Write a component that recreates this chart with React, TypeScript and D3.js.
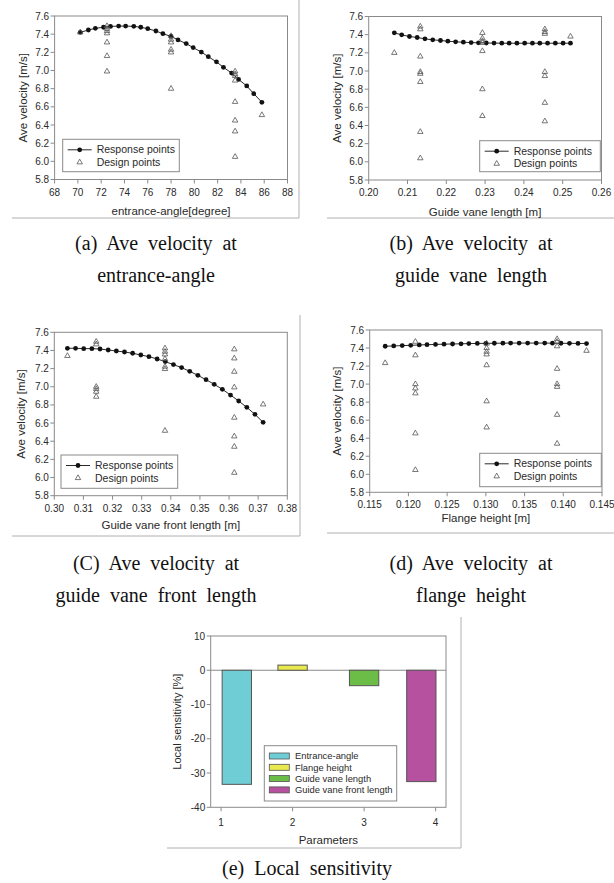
import * as d3 from "d3";

const SANS = "'Liberation Sans', Arial, sans-serif";
const SERIF = "'Liberation Serif', 'Times New Roman', serif";
const FRAME = "#8a8a8a";
const INK = "#2a2a2a";

// velocity axis shared by panels a-d
const velocityTicks = [5.8, 6.0, 6.2, 6.4, 6.6, 6.8, 7.0, 7.2, 7.4, 7.6];

// (a) entrance-angle
const angleTicks = [68, 70, 72, 74, 76, 78, 80, 82, 84, 86, 88];
const angleRespX = [70.2, 70.9, 71.5, 72.2, 72.8, 73.5, 74.1, 74.8, 75.4, 76.0, 76.7, 77.3, 78.0, 78.6, 79.3, 79.9, 80.6, 81.2, 81.9, 82.5, 83.2, 83.8, 84.5, 85.1, 85.8];
const angleRespY = [7.42, 7.446, 7.464, 7.476, 7.485, 7.489, 7.489, 7.486, 7.476, 7.46, 7.435, 7.405, 7.375, 7.337, 7.296, 7.252, 7.203, 7.152, 7.095, 7.035, 6.972, 6.902, 6.83, 6.745, 6.65];
const angleDesX = [70.2, 72.5, 72.5, 72.5, 72.5, 72.5, 72.5, 72.5, 78, 78, 78, 78, 78, 78, 83.5, 83.5, 83.5, 83.5, 83.5, 83.5, 83.5, 83.5, 85.8];
const angleDesY = [7.42, 7.49, 7.46, 7.435, 7.41, 7.31, 7.16, 6.99, 7.38, 7.34, 7.31, 7.23, 7.2, 6.8, 6.99, 6.96, 6.94, 6.89, 6.655, 6.45, 6.33, 6.05, 6.51];

// (b) guide vane length
const vaneTicks = [0.2, 0.21, 0.22, 0.23, 0.24, 0.25, 0.26];
const vaneRespX = [0.2066, 0.2085, 0.2105, 0.2125, 0.2145, 0.2165, 0.2185, 0.2204, 0.2224, 0.2244, 0.2264, 0.2283, 0.2303, 0.2323, 0.2343, 0.2362, 0.2382, 0.2402, 0.2422, 0.2441, 0.2461, 0.2481, 0.2501, 0.252];
const vaneRespY = [7.42, 7.398, 7.38, 7.369, 7.354, 7.343, 7.336, 7.328, 7.321, 7.317, 7.313, 7.31, 7.308, 7.307, 7.306, 7.306, 7.306, 7.306, 7.306, 7.306, 7.306, 7.306, 7.306, 7.306];
const vaneDesX = [0.2066, 0.2133, 0.2133, 0.2133, 0.2133, 0.2133, 0.2133, 0.2133, 0.2133, 0.2293, 0.2293, 0.2293, 0.2293, 0.2293, 0.2293, 0.2293, 0.2454, 0.2454, 0.2454, 0.2454, 0.2454, 0.2454, 0.2454, 0.252];
const vaneDesY = [7.2, 7.49, 7.46, 7.16, 6.99, 6.97, 6.88, 6.33, 6.04, 7.42, 7.36, 7.33, 7.31, 7.22, 6.8, 6.505, 7.46, 7.43, 7.41, 6.99, 6.945, 6.65, 6.447, 7.38];

// (c) guide vane front length
const frontTicks = [0.3, 0.31, 0.32, 0.33, 0.34, 0.35, 0.36, 0.37, 0.38];
const frontRespX = [0.3045, 0.3073, 0.3101, 0.3129, 0.3157, 0.3185, 0.3213, 0.3241, 0.3269, 0.3297, 0.3325, 0.3353, 0.3381, 0.3409, 0.3437, 0.3465, 0.3493, 0.3521, 0.3549, 0.3577, 0.3605, 0.3633, 0.3661, 0.3689, 0.3717];
const frontRespY = [7.424, 7.424, 7.42, 7.42, 7.416, 7.405, 7.394, 7.383, 7.369, 7.35, 7.332, 7.306, 7.277, 7.244, 7.211, 7.17, 7.126, 7.078, 7.027, 6.972, 6.909, 6.843, 6.773, 6.696, 6.608];
const frontDesX = [0.3045, 0.3144, 0.3144, 0.3144, 0.3144, 0.3144, 0.3144, 0.338, 0.338, 0.338, 0.338, 0.338, 0.338, 0.338, 0.3618, 0.3618, 0.3618, 0.3618, 0.3618, 0.3618, 0.3618, 0.3618, 0.3717];
const frontDesY = [7.34, 7.497, 7.468, 7.0, 6.975, 6.946, 6.891, 7.424, 7.387, 7.357, 7.306, 7.222, 7.196, 6.516, 7.413, 7.313, 7.166, 6.994, 6.66, 6.454, 6.34, 6.053, 6.806];

// (d) flange height
const flangeTicks = [0.115, 0.12, 0.125, 0.13, 0.135, 0.14, 0.145];
const flangeRespX = [0.117, 0.1181, 0.1192, 0.1203, 0.1214, 0.1224, 0.1235, 0.1246, 0.1257, 0.1268, 0.1278, 0.1289, 0.13, 0.1311, 0.1322, 0.1332, 0.1343, 0.1354, 0.1365, 0.1376, 0.1386, 0.1397, 0.1408, 0.1419, 0.143];
const flangeRespY = [7.42, 7.423, 7.427, 7.43, 7.434, 7.437, 7.44, 7.443, 7.445, 7.447, 7.449, 7.451, 7.452, 7.453, 7.454, 7.455, 7.455, 7.455, 7.455, 7.455, 7.454, 7.453, 7.452, 7.451, 7.45];
const flangeDesX = [0.117, 0.1209, 0.1209, 0.1209, 0.1209, 0.1209, 0.1209, 0.1209, 0.1301, 0.1301, 0.1301, 0.1301, 0.1301, 0.1301, 0.1301, 0.1392, 0.1392, 0.1392, 0.1392, 0.1392, 0.1392, 0.1392, 0.1392, 0.143];
const flangeDesY = [7.234, 7.47, 7.32, 7.0, 6.953, 6.898, 6.454, 6.048, 7.45, 7.4, 7.36, 7.33, 7.21, 6.81, 6.52, 7.5, 7.47, 7.42, 7.17, 7.0, 6.97, 6.66, 6.34, 7.37];

// (e) local sensitivity
const paramTicks = [1, 2, 3, 4];
const sensTicks = [-40, -30, -20, -10, 0, 10];
const sensNames = ["Entrance-angle", "Flange height", "Guide vane length", "Guide vane front length"];
const sensPos = [1.22, 2.0, 3.0, 3.8];
const sensValues = [-33.3, 1.5, -4.5, -32.5];
const sensColors = ["#6fcdd6", "#e9e84e", "#6cbd47", "#b5519f"];

const triangle = d3.symbol(d3.symbolTriangle, 13)();

function Legend({ left, top, width, height }: { left: number; top: number; width: number; height: number }) {
  return (
    <g>
      <rect x={left} y={top} width={width} height={height} fill="white" stroke={FRAME} strokeWidth={1} />
      <line x1={left + 5} x2={left + 29} y1={top + 10.5} y2={top + 10.5} stroke={INK} strokeWidth={1} />
      <circle cx={left + 17} cy={top + 10.5} r={2.4} fill="#111" />
      <path d={triangle} transform={`translate(${left + 17},${top + 23})`} fill="none" stroke="#555" strokeWidth={0.8} />
      <text x={left + 34} y={top + 14} fontSize={10.5} fontFamily={SANS} fill={INK}>Response points</text>
      <text x={left + 34} y={top + 26.5} fontSize={10.5} fontFamily={SANS} fill={INK}>Design points</text>
    </g>
  );
}

interface PanelProps {
  left: number; right: number; top: number; bottom: number;
  xTicks: number[]; xFormat: string; xLabel: string;
  respX: number[]; respY: number[]; desX: number[]; desY: number[];
  yLabelX: number; xLabelY: number;
  legend: { left: number; top: number; width: number; height: number };
}

function VelocityPanel(p: PanelProps) {
  const x = d3.scaleLinear().domain([p.xTicks[0], p.xTicks[p.xTicks.length - 1]]).range([p.left, p.right]);
  const y = d3.scaleLinear().domain([5.8, 7.6]).range([p.bottom, p.top]);
  const fmt = d3.format(p.xFormat);
  const line = d3.line<number>().x((_, i) => x(p.respX[i])).y(d => y(d));
  return (
    <g>
      <rect x={p.left} y={p.top} width={p.right - p.left} height={p.bottom - p.top} fill="none" stroke={FRAME} strokeWidth={1} />
      {velocityTicks.map(t => (
        <g key={"y" + t}>
          <line x1={p.left - 4} x2={p.left} y1={y(t)} y2={y(t)} stroke={FRAME} />
          <text x={p.left - 5.5} y={y(t)} dy="0.35em" textAnchor="end" fontSize={10} fontFamily={SANS} fill={INK}>{t.toFixed(1)}</text>
        </g>
      ))}
      {p.xTicks.map(t => (
        <g key={"x" + t}>
          <line x1={x(t)} x2={x(t)} y1={p.bottom} y2={p.bottom + 4} stroke={FRAME} />
          <text x={x(t)} y={p.bottom + 12.5} dy="0.35em" textAnchor="middle" fontSize={10} fontFamily={SANS} fill={INK}>{fmt(t)}</text>
        </g>
      ))}
      <text transform={`translate(${p.yLabelX},${(p.top + p.bottom) / 2}) rotate(-90)`} dy="0.35em" textAnchor="middle" fontSize={11.5} fontFamily={SANS} fill={INK}>Ave velocity [m/s]</text>
      <text x={(p.left + p.right) / 2} y={p.xLabelY} dy="0.35em" textAnchor="middle" fontSize={11.5} fontFamily={SANS} fill={INK}>{p.xLabel}</text>
      <path d={line(p.respY) ?? ""} fill="none" stroke={INK} strokeWidth={1} />
      {p.respY.map((v, i) => (
        <circle key={"r" + i} cx={x(p.respX[i])} cy={y(v)} r={2.4} fill="#111" />
      ))}
      {p.desY.map((v, i) => (
        <path key={"d" + i} d={triangle} transform={`translate(${x(p.desX[i])},${y(v)})`} fill="none" stroke="#555" strokeWidth={0.8} />
      ))}
      <Legend {...p.legend} />
    </g>
  );
}

function SensitivityPanel() {
  const left = 210.7, right = 446, top = 636, bottom = 807.3;
  const x = d3.scaleLinear().domain([0.855, 4.145]).range([left, right]);
  const y = d3.scaleLinear().domain([-40, 10]).range([bottom, top]);
  const bw = 0.41;
  return (
    <g>
      <rect x={left} y={top} width={right - left} height={bottom - top} fill="none" stroke={FRAME} />
      <line x1={left} x2={right} y1={y(0)} y2={y(0)} stroke={FRAME} />
      {sensValues.map((v, i) => (
        <rect key={i} x={x(sensPos[i] - bw / 2)} width={x(bw) - x(0)} y={y(Math.max(0, v))} height={Math.abs(y(v) - y(0))}
          fill={sensColors[i]} stroke="#555" strokeWidth={1} />
      ))}
      {sensTicks.map(t => (
        <g key={"y" + t}>
          <line x1={left - 4} x2={left} y1={y(t)} y2={y(t)} stroke={FRAME} />
          <text x={left - 5.5} y={y(t)} dy="0.35em" textAnchor="end" fontSize={10} fontFamily={SANS} fill={INK}>{t}</text>
        </g>
      ))}
      {paramTicks.map(t => (
        <g key={"x" + t}>
          <line x1={x(t)} x2={x(t)} y1={bottom} y2={bottom + 4} stroke={FRAME} />
          <text x={x(t)} y={bottom + 15.5} dy="0.35em" textAnchor="middle" fontSize={10} fontFamily={SANS} fill={INK}>{t}</text>
        </g>
      ))}
      <text transform={`translate(177,${(top + bottom) / 2}) rotate(-90)`} dy="0.35em" textAnchor="middle" fontSize={11} fontFamily={SANS} fill={INK}>Local sensitivity [%]</text>
      <text x={(left + right) / 2} y={840} dy="0.35em" textAnchor="middle" fontSize={11.5} fontFamily={SANS} fill={INK}>Parameters</text>
      <rect x={264.3} y={745.7} width={132.4} height={55.3} fill="white" stroke={FRAME} />
      {sensNames.map((n, i) => (
        <g key={n}>
          <rect x={269.3} y={753 + i * 11.3} width={20} height={6} fill={sensColors[i]} stroke="#555" strokeWidth={0.8} />
          <text x={295} y={756 + i * 11.3} dy="0.35em" fontSize={9.4} fontFamily={SANS} fill={INK}>{n}</text>
        </g>
      ))}
    </g>
  );
}

function Caption({ x, y, lines }: { x: number; y: number; lines: string[] }) {
  return (
    <g>
      {lines.map((l, i) => (
        <text key={i} x={x} y={y + i * 32} textAnchor="middle" fontSize={20} fontFamily={SERIF} fill="#111" style={{ wordSpacing: "5px" }}>{l}</text>
      ))}
    </g>
  );
}

export default function App() {
  return (
    <svg width={614} height={883} style={{ position: "absolute", left: 0, top: 0, background: "white" }}>
      {/* panel borders from the scanned figure */}
      <g stroke="#b0b0b0" strokeWidth={1}>
        <line x1={299} x2={299} y1={0} y2={218} />
        <line x1={12} x2={299} y1={218} y2={218} />
        <line x1={327} x2={614} y1={218} y2={218} />
        <line x1={300} x2={300} y1={315} y2={536} />
        <line x1={12} x2={300} y1={536} y2={536} />
        <line x1={327} x2={614} y1={533} y2={533} />
        <line x1={461} x2={461} y1={617} y2={848} />
        <line x1={167} x2={461} y1={848} y2={848} />
      </g>
      <VelocityPanel left={54.6} right={287.5} top={16} bottom={179.5} xTicks={angleTicks} xFormat="d" xLabel="entrance-angle[degree]"
        respX={angleRespX} respY={angleRespY} desX={angleDesX} desY={angleDesY} yLabelX={23} xLabelY={210.5}
        legend={{ left: 62.7, top: 139.3, width: 116.6, height: 32.4 }} />
      <VelocityPanel left={368.7} right={601.5} top={16.5} bottom={180} xTicks={vaneTicks} xFormat=".2f" xLabel="Guide vane length [m]"
        respX={vaneRespX} respY={vaneRespY} desX={vaneDesX} desY={vaneDesY} yLabelX={336.5} xLabelY={211.5}
        legend={{ left: 479.7, top: 140.7, width: 120.6, height: 31 }} />
      <VelocityPanel left={54.3} right={287.3} top={332.3} bottom={495.7} xTicks={frontTicks} xFormat=".2f" xLabel="Guide vane front length [m]"
        respX={frontRespX} respY={frontRespY} desX={frontDesX} desY={frontDesY} yLabelX={21} xLabelY={525}
        legend={{ left: 61, top: 455, width: 116.7, height: 33.3 }} />
      <VelocityPanel left={369.7} right={602} top={330} bottom={492.3} xTicks={flangeTicks} xFormat=".3f" xLabel="Flange height [m]"
        respX={flangeRespX} respY={flangeRespY} desX={flangeDesX} desY={flangeDesY} yLabelX={336.5} xLabelY={518}
        legend={{ left: 479.7, top: 453.3, width: 121.6, height: 33.4 }} />
      <SensitivityPanel />
      <Caption x={156} y={250} lines={["(a) Ave velocity at", "entrance-angle"]} />
      <Caption x={471} y={250} lines={["(b) Ave velocity at", "guide vane length"]} />
      <Caption x={156} y={570} lines={["(C) Ave velocity at", "guide vane front length"]} />
      <Caption x={471} y={570} lines={["(d) Ave velocity at", "flange height"]} />
      <Caption x={307} y={875} lines={["(e) Local sensitivity"]} />
    </svg>
  );
}
